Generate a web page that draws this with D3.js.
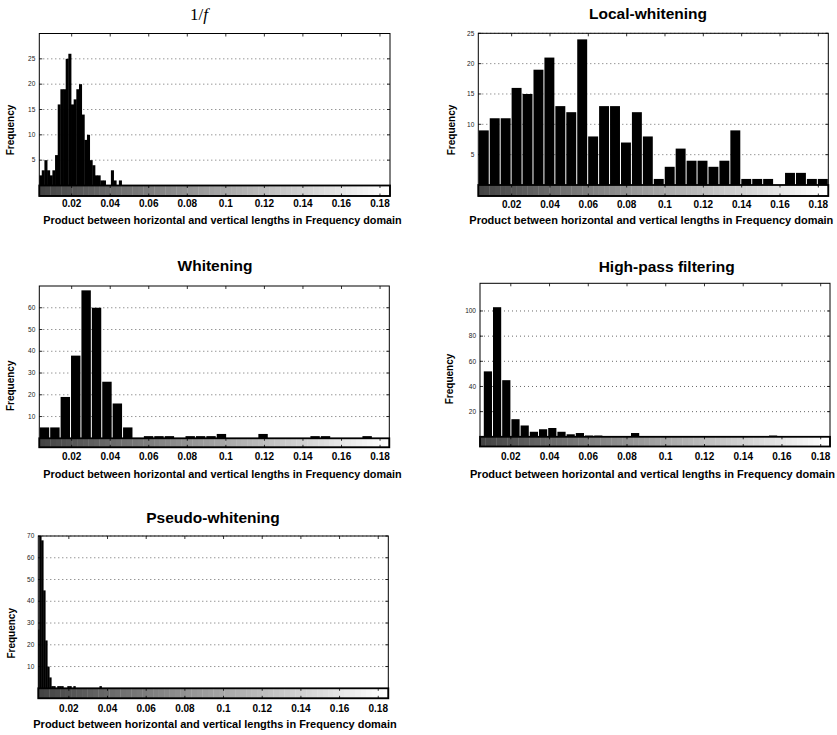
<!DOCTYPE html>
<meta charset="utf-8">
<style>
  body { margin: 0; background: #fff; }
  text { font-family: "Liberation Sans", Arial, Helvetica, sans-serif; }
  .title { font-weight: bold; font-size: 15.5px; }
  .xlabel { font-weight: bold; font-size: 10.6px; }
  .ylabel { font-weight: bold; font-size: 10px; }
  .xtick text { font-weight: bold; font-size: 10px; }
  .ytick text { font-size: 6.5px; fill: #222; }
  .grid line { stroke: #444; stroke-width: 0.8; stroke-dasharray: 1, 3; }
</style>
<body>
<svg id="chart" width="837" height="735"></svg>
<script src="https://d3js.org/d3.v7.min.js"></script>
<script>

  // tick labels shared by every panel
  const xTicks = [0.02, 0.04, 0.06, 0.08, 0.1, 0.12, 0.14, 0.16, 0.18];

  // histogram counts
  const oneOverFCounts = [2, 3, 5, 3, 2, 3, 6, 16, 19, 19, 25, 26, 16, 17, 19, 20, 14, 9, 10, 5, 4, 2, 2, 1, 1, 0, 0, 3, 1, 0, 1];
  const localWhiteningCounts = [9, 11, 11, 16, 15, 19, 21, 13, 12, 24, 8, 13, 13, 7, 12, 8, 1, 3, 6, 4, 4, 3, 4, 9, 1, 1, 1, 0, 2, 2, 1, 1];
  const whiteningCounts = [5, 5, 19, 38, 68, 60, 26, 16, 5, 0, 1, 1, 1, 0, 1, 1, 1, 2, 0, 0, 0, 2, 0, 0, 0, 0, 1, 1, 0, 0, 0, 1, 0, 0];
  const highPassCounts = [52, 103, 45, 14, 9, 4, 6, 7, 4, 2, 3, 1, 1, 0, 0, 0, 3, 0, 0, 0, 0, 0, 0, 0, 0, 0, 0, 0, 0, 0, 0, 1, 0, 0, 0, 0, 0];
  const pseudoWhiteningCounts = [27, 70, 68, 45, 22, 10, 5, 1, 1, 0, 1, 1, 1, 0, 0, 1, 1, 0, 1, 0, 0, 0, 0, 0, 0, 0, 0, 0, 0, 0, 0, 1];

  // y tick labels per panel
  const oneOverFYTicks = [5, 10, 15, 20, 25];
  const localWhiteningYTicks = [5, 10, 15, 20, 25];
  const whiteningYTicks = [10, 20, 30, 40, 50, 60];
  const highPassYTicks = [20, 40, 60, 80, 100];
  const pseudoWhiteningYTicks = [10, 20, 30, 40, 50, 60, 70];

  // x range of each axis and the bins (start, width) of each histogram
  const xDomains = [[0.0032, 0.1852], [0.0026, 0.1852], [0.0032, 0.1848], [0.0041, 0.1848], [0.0042, 0.1852]];
  const binStarts = [0.0032, 0.0026, 0.0032, 0.0058, 0.0037];
  const binWidths = [0.00138, 0.005706, 0.0054, 0.00475, 0.00104];
  const yMaxes = [30, 25, 70, 122, 70];
  const titles = ['1/f', 'Local-whitening', 'Whitening', 'High-pass filtering', 'Pseudo-whitening'];

  const xLabelText = 'Product between horizontal and vertical lengths in Frequency domain';

  const panels = [
    { title: titles[0], counts: oneOverFCounts, yTicks: oneOverFYTicks, gap: -0.4,
      left: 39.3, right: 390, top: 33.5, base: 185.5, cbBottom: 196, titleX: 199, titleY: 19.5,
      ylabelX: 13.5, ylabelY: 130, xlabelL: 43.3, xlabelR: 401.7, xlabelY: 224, tickY: 206.5 },
    { title: titles[1], counts: localWhiteningCounts, yTicks: localWhiteningYTicks, gap: 1,
      left: 478.3, right: 828.3, top: 33.3, base: 185, cbBottom: 196, titleX: 648, titleY: 18.5,
      ylabelX: 454.5, ylabelY: 130, xlabelL: 469.3, xlabelR: 833.3, xlabelY: 224, tickY: 208 },
    { title: titles[2], counts: whiteningCounts, yTicks: whiteningYTicks, gap: 1,
      left: 39.3, right: 389.3, top: 286, base: 438.3, cbBottom: 447.3, titleX: 215, titleY: 270.5,
      ylabelX: 14, ylabelY: 385.8, xlabelL: 43.3, xlabelR: 401.7, xlabelY: 477.5, tickY: 460 },
    { title: titles[3], counts: highPassCounts, yTicks: highPassYTicks, gap: 1,
      left: 480, right: 830, top: 283.3, base: 436.8, cbBottom: 446.5, titleX: 666.7, titleY: 271.5,
      ylabelX: 453, ylabelY: 379, xlabelL: 470, xlabelR: 835, xlabelY: 477.5, tickY: 460 },
    { title: titles[4], counts: pseudoWhiteningCounts, yTicks: pseudoWhiteningYTicks, gap: -0.4,
      left: 38.3, right: 388.3, top: 536, base: 688.3, cbBottom: 698.3, titleX: 213, titleY: 522.5,
      ylabelX: 14.5, ylabelY: 633.3, xlabelL: 33.3, xlabelR: 396.7, xlabelY: 727.7, tickY: 711.5 }
  ];

  const svg = d3.select('#chart');
  svg.append('rect').attr('width', 837).attr('height', 735).attr('fill', '#fff');

  const nColors = 64;

  panels.forEach((p, i) => {
    const g = svg.append('g');
    const x = d3.scaleLinear().domain(xDomains[i]).range([p.left, p.right]);
    const y = d3.scaleLinear().domain([0, yMaxes[i]]).range([p.base, p.top]);

    const clipId = 'clip' + i;
    svg.append('clipPath').attr('id', clipId)
      .append('rect')
      .attr('x', p.left).attr('y', p.top)
      .attr('width', p.right - p.left).attr('height', p.base - p.top);

    // dotted grid
    g.append('g').attr('class', 'grid')
      .selectAll('line')
      .data(p.yTicks)
      .enter().append('line')
      .attr('x1', p.left).attr('x2', p.right)
      .attr('y1', d => y(d)).attr('y2', d => y(d));

    // bars
    const bins = p.counts.map((c, k) => ({ x0: binStarts[i] + k * binWidths[i], x1: binStarts[i] + (k + 1) * binWidths[i], c: c }));
    g.append('g').attr('clip-path', `url(#${clipId})`)
      .selectAll('rect')
      .data(bins.filter(b => b.c > 0))
      .enter().append('rect')
      .attr('x', b => x(b.x0) + p.gap / 2)
      .attr('width', b => Math.max(0.5, x(b.x1) - x(b.x0) - p.gap))
      .attr('y', b => y(b.c))
      .attr('height', b => y(0) - y(b.c))
      .attr('fill', '#000');

    // grey colour bar under the axis
    const cbW = (p.right - p.left) / nColors;
    g.append('g')
      .selectAll('rect')
      .data(d3.range(nColors))
      .enter().append('rect')
      .attr('x', k => p.left + k * cbW)
      .attr('width', cbW + 0.3)
      .attr('y', p.base)
      .attr('height', p.cbBottom - p.base)
      .attr('fill', k => {
        const v = Math.round(68 + (255 - 68) * k / (nColors - 1));
        return `rgb(${v},${v},${v})`;
      });
    g.append('rect')
      .attr('x', p.left).attr('y', p.base)
      .attr('width', p.right - p.left).attr('height', p.cbBottom - p.base)
      .attr('fill', 'none').attr('stroke', '#000').attr('stroke-width', 1.8);

    // ticks on the colour bar and along the top edge
    const tickLines = g.append('g').attr('stroke', '#000').attr('stroke-width', 0.8);
    xTicks.forEach(t => {
      tickLines.append('line').attr('x1', x(t)).attr('x2', x(t)).attr('y1', p.top).attr('y2', p.top + 3);
      tickLines.append('line').attr('x1', x(t)).attr('x2', x(t)).attr('y1', p.base).attr('y2', p.base + 2.5);
      tickLines.append('line').attr('x1', x(t)).attr('x2', x(t)).attr('y1', p.cbBottom - 2.5).attr('y2', p.cbBottom);
    });
    p.yTicks.forEach(t => {
      tickLines.append('line').attr('x1', p.left).attr('x2', p.left + 3).attr('y1', y(t)).attr('y2', y(t));
      tickLines.append('line').attr('x1', p.right - 3).attr('x2', p.right).attr('y1', y(t)).attr('y2', y(t));
    });

    // axes box
    g.append('rect')
      .attr('x', p.left).attr('y', p.top)
      .attr('width', p.right - p.left).attr('height', p.cbBottom - p.top)
      .attr('fill', 'none').attr('stroke', '#000').attr('stroke-width', 1);

    // x tick labels
    g.append('g').attr('class', 'xtick')
      .selectAll('text')
      .data(xTicks)
      .enter().append('text')
      .attr('x', d => x(d))
      .attr('y', p.tickY)
      .attr('text-anchor', 'middle')
      .text(d => d3.format('~g')(d));

    // y tick labels
    g.append('g').attr('class', 'ytick')
      .selectAll('text')
      .data(p.yTicks)
      .enter().append('text')
      .attr('x', p.left - 4)
      .attr('y', d => y(d) + 2.2)
      .attr('text-anchor', 'end')
      .text(d => d);

    // titles
    if (i === 0) {
      const t = g.append('text')
        .attr('x', p.titleX).attr('y', p.titleY)
        .attr('text-anchor', 'middle')
        .style('font-family', '"Liberation Serif", "DejaVu Serif", serif')
        .style('font-size', '17px');
      t.append('tspan').text('1/');
      t.append('tspan').style('font-style', 'italic').text('f');
    } else {
      g.append('text').attr('class', 'title')
        .attr('x', p.titleX).attr('y', p.titleY)
        .attr('text-anchor', 'middle')
        .text(p.title);
    }

    g.append('text').attr('class', 'ylabel')
      .attr('transform', `translate(${p.ylabelX},${p.ylabelY}) rotate(-90)`)
      .attr('text-anchor', 'middle')
      .text('Frequency');

    g.append('text').attr('class', 'xlabel')
      .attr('x', p.xlabelL).attr('y', p.xlabelY)
      .attr('textLength', p.xlabelR - p.xlabelL)
      .attr('lengthAdjust', 'spacingAndGlyphs')
      .text(xLabelText);
  });

</script>
</body>
